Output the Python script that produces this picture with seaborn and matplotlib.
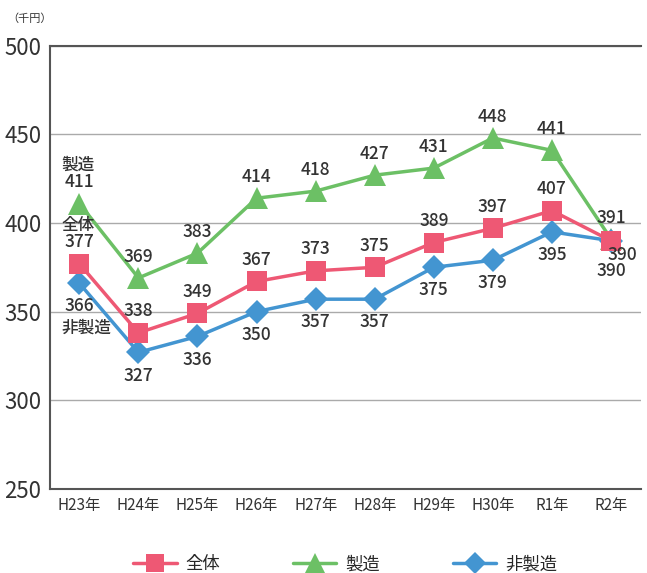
import pandas as pd
import seaborn as sns
import matplotlib.pyplot as plt

years = ['H23年', 'H24年', 'H25年', 'H26年', 'H27年', 'H28年', 'H29年', 'H30年', 'R1年', 'R2年']
total = [377, 338, 349, 367, 373, 375, 389, 397, 407, 390]
manuf = [411, 369, 383, 414, 418, 427, 431, 448, 441, 391]
nonmanuf = [366, 327, 336, 350, 357, 357, 375, 379, 395, 390]

sns.set_style('white')
plt.rcParams['font.family'] = ['Noto Sans CJK JP', 'DejaVu Sans']

colors = {'全体': '#EE5874', '製造': '#6CC065', '非製造': '#4395D1'}
markers = {'全体': 's', '製造': '^', '非製造': 'D'}
sizes = {'全体': 14, '製造': 16, '非製造': 12}

fig, ax = plt.subplots(figsize = (6.47, 5.73), dpi = 100)
fig.subplots_adjust(left = 0.077, right = 0.99, top = 0.92, bottom = 0.147)

x = list(range(len(years)))
for name, vals, z in [('非製造', nonmanuf, 2), ('全体', total, 3), ('製造', manuf, 1)]:
    sns.lineplot(x = x, y = vals, ax = ax, color = colors[name], marker = markers[name],
                 markersize = sizes[name], markeredgewidth = 0, linewidth = 2.5, label = name, zorder = z)

lab = dict(fontsize = 12.5, color = '#333333', ha = 'center', weight = 'medium')
for i in x:
    ax.text(i, manuf[i] + 7, str(manuf[i]), va = 'bottom', **lab)
for i in range(9):
    ax.text(i, total[i] + 7, str(total[i]), va = 'bottom', **lab)
for i in range(9):
    ax.text(i, nonmanuf[i] - 8, str(nonmanuf[i]), va = 'top', **lab)
ax.text(9.2, total[9] - 3, str(total[9]), va = 'top', **lab)
ax.text(9, nonmanuf[9] - 12, str(nonmanuf[9]), va = 'top', **lab)

side = dict(fontsize = 12, color = '#333333', weight = 'medium')
ax.text(-0.3, 428, '製造', va = 'bottom', **side)
ax.text(-0.3, 394, '全体', va = 'bottom', **side)
ax.text(-0.3, 346, '非製造', va = 'top', **side)

ax.set_xlim(-0.5, 9.5)
ax.set_ylim(250, 500)
ax.set_yticks([250, 300, 350, 400, 450, 500])
ax.set_xticks(x)
ax.set_xticklabels(years)
ax.tick_params(axis = 'y', labelsize = 16, colors = '#333333', length = 0, pad = 6)
ax.tick_params(axis = 'x', labelsize = 11, colors = '#333333', length = 0, pad = 6)
ax.yaxis.grid(True, color = '#aaaaaa', linewidth = 1)
ax.set_axisbelow(True)
ax.spines['right'].set_visible(False)
for s in ['left', 'bottom', 'top']:
    ax.spines[s].set_color('#555555')
    ax.spines[s].set_linewidth(1.5)

fig.text(0.012, 0.962, '（千円）', fontsize = 8, color = '#333333', ha = 'left')

handles, labels = ax.get_legend_handles_labels()
order = [labels.index(n) for n in ['全体', '製造', '非製造']]
ax.legend([handles[k] for k in order], [labels[k] for k in order],
          loc = 'upper center', bbox_to_anchor = (0.5, -0.115), ncol = 3, frameon = False,
          fontsize = 12.5, columnspacing = 4.2, handlelength = 2.5, handletextpad = 0.5,
          markerscale = 0.9)

plt.savefig('out.png', dpi = 100)
